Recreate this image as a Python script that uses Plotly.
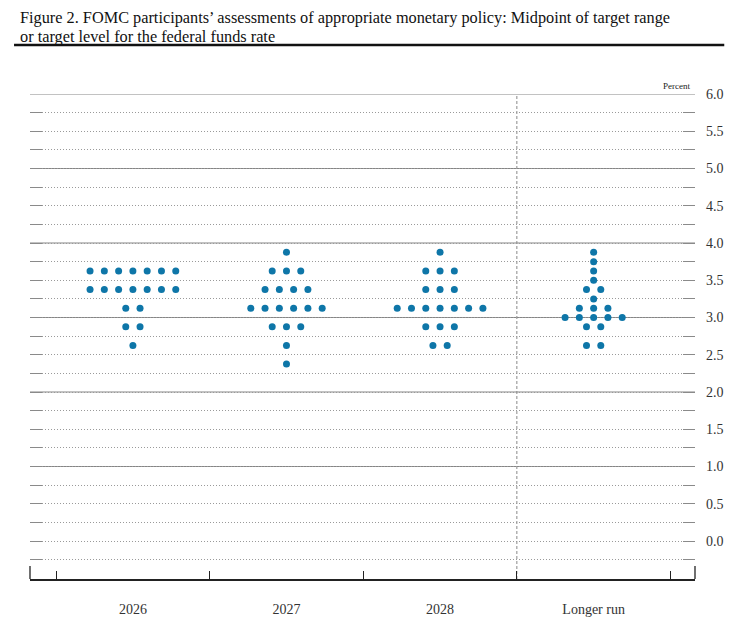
import plotly.graph_objects as go

categories = ["2026", "2027", "2028", "Longer run"]
midpoints_2026 = [3.625, 3.375, 3.125, 2.875, 2.625]
counts_2026 = [7, 7, 2, 2, 1]
midpoints_2027 = [3.875, 3.625, 3.375, 3.125, 2.875, 2.625, 2.375]
counts_2027 = [1, 3, 4, 6, 3, 1, 1]
midpoints_2028 = [3.875, 3.625, 3.375, 3.125, 2.875, 2.625]
counts_2028 = [1, 3, 3, 7, 3, 2]
midpoints_lr = [3.875, 3.75, 3.625, 3.5, 3.375, 3.25, 3.125, 3.0, 2.875, 2.625]
counts_lr = [1, 1, 1, 1, 2, 1, 3, 5, 2, 2]
y_tick_vals = [0.0, 0.5, 1.0, 1.5, 2.0, 2.5, 3.0, 3.5, 4.0, 4.5, 5.0, 5.5, 6.0]
y_tick_text = ["0.0", "0.5", "1.0", "1.5", "2.0", "2.5", "3.0", "3.5", "4.0", "4.5", "5.0", "5.5", "6.0"]
integer_levels = [1, 2, 3, 4, 5, 6]
title_line1 = "Figure 2. FOMC participants’ assessments of appropriate monetary policy: Midpoint of target range"
title_line2 = "or target level for the federal funds rate"

series = [(midpoints_2026, counts_2026), (midpoints_2027, counts_2027),
          (midpoints_2028, counts_2028), (midpoints_lr, counts_lr)]

DOT_GAP = 0.093
BLUE = "#0e76a8"
SERIF = "Liberation Serif"
GRID = "#9a9a9a"

xs, ys = [], []
for ci, (mids, cnts) in enumerate(series):
    center = ci + 0.5
    for m, n in zip(mids, cnts):
        for i in range(n):
            xs.append(center + (i - (n - 1) / 2) * DOT_GAP)
            ys.append(m)

fig = go.Figure()
fig.add_trace(go.Scatter(
    x=xs, y=ys, mode="markers",
    marker=dict(color=BLUE, size=7, line=dict(width=0)),
    hoverinfo="skip", showlegend=False,
))

shapes = []
for lv in integer_levels:
    shapes.append(dict(type="line", xref="paper", yref="y", x0=0, x1=1, y0=lv, y1=lv,
                       line=dict(color="#858585", width=1.2), layer="below"))
# separator before "Longer run"
shapes.append(dict(type="line", xref="x", yref="paper", x0=3, x1=3, y0=0, y1=1,
                   line=dict(color="#8a8a8a", width=1, dash="3px,2px"), layer="below"))
# edge ticks of x axis
for px in (0, 1):
    shapes.append(dict(type="line", xref="paper", yref="paper", x0=px, x1=px, y0=0, y1=0.027,
                       line=dict(color="#222", width=1.3)))
# heavy rule under the title
shapes.append(dict(type="line", xref="paper", yref="paper", x0=-0.024, x1=1.044,
                   y0=1.101, y1=1.101, line=dict(color="#111", width=2.6)))

annotations = [
    dict(text=title_line1, xref="paper", yref="paper", x=-0.016, y=1.1577,
         xanchor="left", yanchor="middle", showarrow=False, borderpad=0,
         font=dict(family=SERIF, size=16.3, color="#111")),
    dict(text=title_line2, xref="paper", yref="paper", x=-0.016, y=1.1186,
         xanchor="left", yanchor="middle", showarrow=False, borderpad=0,
         font=dict(family=SERIF, size=16.3, color="#111")),
    dict(text="Percent", xref="paper", yref="paper", x=0.9955, y=1.0,
         xanchor="right", yanchor="bottom", yshift=1, showarrow=False,
         font=dict(family=SERIF, size=9, color="#222")),
]

fig.update_layout(
    width=732, height=614,
    margin=dict(l=22, r=45, t=86, b=43, autoexpand=False),
    paper_bgcolor="white", plot_bgcolor="white",
    font=dict(family=SERIF, color="#222"),
    shapes=shapes,
    annotations=annotations,
)

fig.update_xaxes(
    range=[-0.17, 4.16], showgrid=False, zeroline=False, automargin=False,
    tickmode="array", tickvals=[0.5, 1.5, 2.5, 3.5], ticktext=categories,
    ticks="", ticklabelstandoff=16,
    tickfont=dict(family=SERIF, size=14, color="#333"),
    showline=True, linecolor="#222", linewidth=1.5,
    minor=dict(tickmode="array", tickvals=[0, 1, 2, 3, 4], ticks="inside", ticklen=8,
               tickcolor="#222", tickwidth=1.3, showgrid=False),
)

fig.update_yaxes(
    range=[-0.51, 6.0], side="right", zeroline=False, automargin=False,
    tickmode="array", tickvals=y_tick_vals, ticktext=y_tick_text,
    tickfont=dict(family=SERIF, size=14, color="#333"),
    ticks="inside", ticklen=12, tickcolor="#8a8a8a", tickwidth=1.3, mirror="ticks",
    showgrid=True, gridcolor=GRID, gridwidth=1, griddash="1px,2px",
    showline=False, ticklabelstandoff=10,
    minor=dict(dtick=0.25, tick0=0, ticks="inside", ticklen=12, tickcolor="#8a8a8a",
               tickwidth=1.3, showgrid=True, gridcolor=GRID, gridwidth=1, griddash="1px,2px"),
)

fig.write_html("out.html")
